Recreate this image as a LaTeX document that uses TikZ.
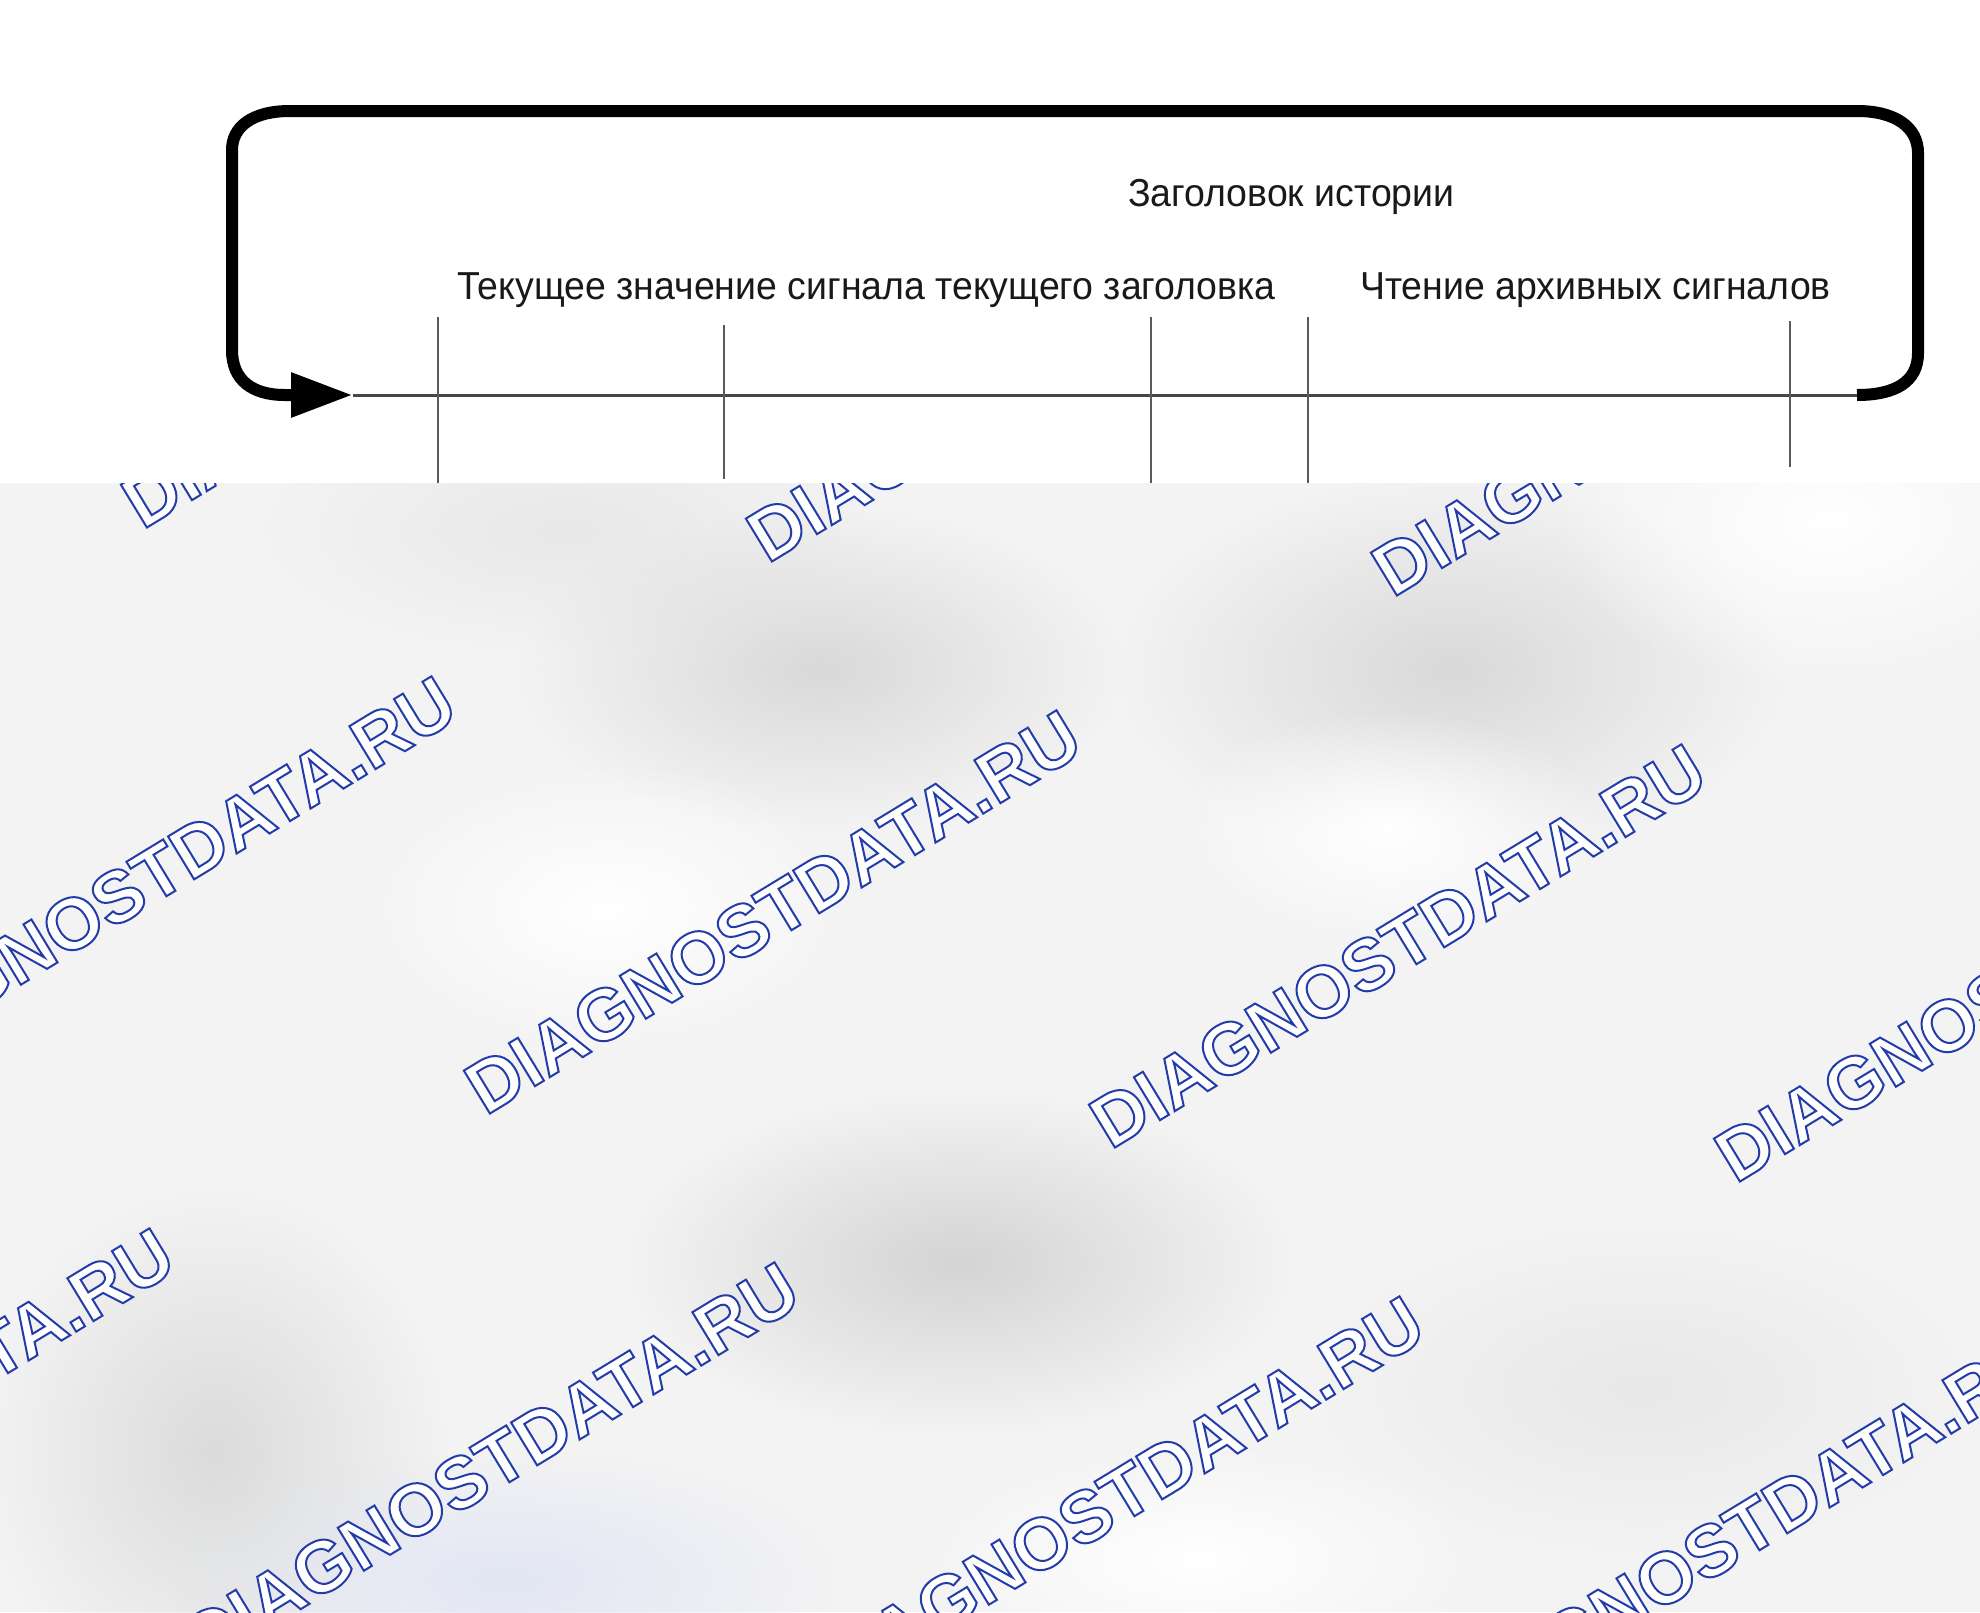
\documentclass[tikz,border=0pt]{standalone}
\usepackage{fontspec}
\setmainfont{Liberation Sans}
\newfontfamily\lblfont[FakeStretch=0.96]{Liberation Sans}
\usetikzlibrary{arrows.meta,fadings}
\definecolor{wmblue}{RGB}{35,60,170}
\definecolor{bggray}{RGB}{243,243,243}
\definecolor{axisgray}{RGB}{70,70,70}
\definecolor{tickgray}{RGB}{90,90,90}
\definecolor{lav}{RGB}{226,230,245}
\tikzfading[name=softblob, inner color=transparent!0, outer color=transparent!100]
\newcommand\wmark[3]{%
  \node[wmtext] (#3) at (#1,#2) {\special{pdf:literal direct 2 Tr 2 w 0.137 0.235 0.667 RG}DIAGNOSTDATA.RU\special{pdf:literal direct 0 Tr}};}
\newcommand\blob[5]{\fill[#5, path fading=softblob] (#1,#2) ellipse [x radius=#3, y radius=#4];}
\begin{document}
\begin{tikzpicture}[x=1pt,y=-1pt,
  loopline/.style={line width=12pt, line cap=butt, line join=round},
  axisline/.style={line width=3pt, draw=axisgray},
  tickline/.style={line width=2pt, draw=tickgray},
  lbl/.style={font=\lblfont\fontsize{39}{46}\selectfont, inner sep=0pt, anchor=base west, text=black!90},
  wmtext/.style={font=\fontsize{73}{80}\selectfont\bfseries, inner sep=0pt, rotate=31.3, text=white}]
\useasboundingbox (0,0) rectangle (1980,1612);
\fill[white] (0,0) rectangle (1980,1612);

% axis
\coordinate (tip) at (353,395);
\coordinate (rend) at (1857,395);
\draw[axisline] (tip) -- (rend);

% ticks
\foreach \n/\x/\ya/\yb in {1/438/317/483, 2/724/325/479, 3/1151/317/483, 4/1308/317/483, 5/1790/321/467}{
  \coordinate (t\n a) at (\x,\ya);
  \coordinate (t\n b) at (\x,\yb);
  \draw[tickline] (t\n a) -- (t\n b);
}

% loop
\draw[loopline, -{Triangle[length=62pt,width=42pt]}] (rend) .. controls (1895,395) and (1918,382) .. (1918,353) -- (1918,153) .. controls (1918,127) and (1895,111) .. (1857,111) -- (290,111) .. controls (252,111) and (232,127) .. (232,150) -- (232,350) .. controls (232,380) and (252,395) .. (285,395) -- (tip);

% labels
\node[lbl] (hist) at (1128,206) {Заголовок истории};
\node[lbl] (cur) at (457,299) {Текущее значение сигнала текущего заголовка};
\node[lbl] (arch) at (1360,299) {Чтение архивных сигналов};

% blurred lower region
\begin{scope}
\clip (0,483) rectangle (1980,1612);
\fill[bggray] (0,483) rectangle (1980,1612);
\blob{568}{530}{300}{120}{black!9}
\blob{821}{669}{300}{160}{black!15}
\blob{1452}{669}{330}{190}{black!15}
\blob{960}{1263}{330}{170}{black!17}
\blob{215}{1452}{230}{260}{black!14}
\blob{1642}{1389}{320}{160}{black!9}
\blob{505}{1580}{330}{130}{lav}
\blob{1830}{520}{280}{170}{white}
\blob{606}{909}{260}{150}{white}
\blob{1389}{830}{220}{120}{white}
\blob{1200}{1560}{300}{120}{white}
\wmark{430}{326}{wa}
\wmark{1055}{360}{wb}
\wmark{1680}{394}{wc}
\wmark{148}{878}{wd}
\wmark{773}{912}{we}
\wmark{1398}{946}{wf}
\wmark{2023}{980}{wg}
\wmark{-134}{1430}{wh}
\wmark{491}{1464}{wi}
\wmark{1116}{1498}{wj}
\wmark{1741}{1532}{wk}
\end{scope}
\end{tikzpicture}
\end{document}
